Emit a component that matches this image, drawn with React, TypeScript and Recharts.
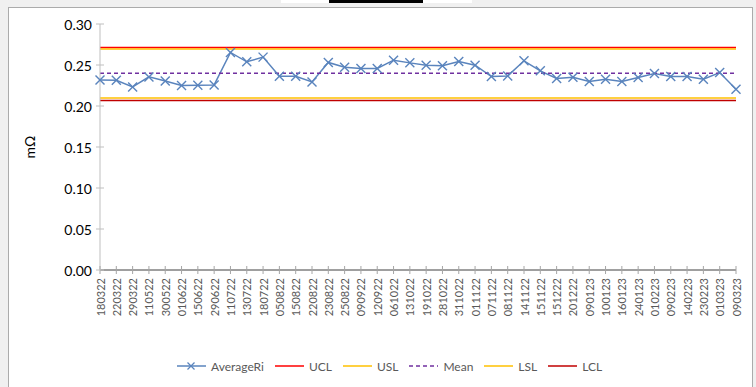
import React from 'react';
import { LineChart, Line, XAxis, YAxis, Legend } from 'recharts';

const dates = [
  '180322','220322','290322','110522','300522','010622','150622','290622','110722','130722',
  '180722','050822','150822','220822','230822','250822','090922','120922','061022','131022',
  '191022','281022','311022','011122','071122','081122','141122','151122','151222','201222',
  '090123','100123','160123','240123','010223','090223','140223','230223','010323','090323',
];

const averageRi = [
  0.2318, 0.2314, 0.2232, 0.2355, 0.2306, 0.2249, 0.2253, 0.2257, 0.2653, 0.2539,
  0.2596, 0.2363, 0.2363, 0.2294, 0.2531, 0.2473, 0.2457, 0.2457, 0.2559, 0.2526,
  0.2498, 0.2490, 0.2543, 0.2498, 0.2359, 0.2367, 0.2551, 0.2429, 0.2335, 0.2351,
  0.2298, 0.2326, 0.2298, 0.2347, 0.2396, 0.2359, 0.2359, 0.2326, 0.2408, 0.2204,
];

const UCL = 0.2712;
const USL = 0.2694;
const MEAN = 0.2398;
const LSL = 0.2097;
const LCL = 0.2067;

const yTicks = [0, 0.05, 0.1, 0.15, 0.2, 0.25, 0.3];

const data = dates.map((d, i) => ({
  date: d,
  AverageRi: averageRi[i],
  UCL,
  USL,
  Mean: MEAN,
  LSL,
  LCL,
}));

const BLUE = '#5A84BD';

const series = [
  { key: 'AverageRi', color: BLUE, dash: undefined as string | undefined, marker: true },
  { key: 'UCL', color: '#FF0000', dash: undefined, marker: false },
  { key: 'USL', color: '#FFC000', dash: undefined, marker: false },
  { key: 'Mean', color: '#7030A0', dash: '4 3', marker: false },
  { key: 'LSL', color: '#FFC000', dash: undefined, marker: false },
  { key: 'LCL', color: '#C00000', dash: undefined, marker: false },
];

const FONT = 'Lato, "Open Sans", sans-serif';

const XDot = (props: any) => {
  const { cx, cy, index } = props;
  if (cx == null || cy == null) return <g key={`d${index}`} />;
  const s = 4.5;
  return (
    <g key={`d${index}`}>
      <line x1={cx - s} y1={cy - s} x2={cx + s} y2={cy + s} stroke={BLUE} strokeWidth={1.4} />
      <line x1={cx - s} y1={cy + s} x2={cx + s} y2={cy - s} stroke={BLUE} strokeWidth={1.4} />
    </g>
  );
};

const YTick = (props: any) => {
  const { x, y, payload } = props;
  return (
    <g>
      <line x1={x - 4} x2={x + 4} y1={y} y2={y} stroke="#BFBFBF" strokeWidth={1} />
      <text x={x - 8} y={y} textAnchor="end" dominantBaseline="central" fontSize={14} fill="#000" fontFamily={FONT}>
        {Number(payload.value).toFixed(2)}
      </text>
    </g>
  );
};

const XTick = (props: any) => {
  const { x, y, payload } = props;
  return (
    <g>
      <line x1={x} x2={x} y1={y - 4} y2={y + 4} stroke="#A6A6A6" strokeWidth={1} />
      <text
        x={x}
        y={y + 8}
        transform={`rotate(-90 ${x} ${y + 8})`}
        textAnchor="end"
        dominantBaseline="central"
        fontSize={11}
        fill="#595959"
        fontFamily={FONT}
      >
        {payload.value}
      </text>
    </g>
  );
};

const LegendContent = () => (
  <div
    style={{
      height: 20,
      display: 'flex',
      alignItems: 'center',
      paddingLeft: 177,
      fontFamily: FONT,
      fontSize: 12,
      color: '#595959',
      boxSizing: 'border-box',
    }}
  >
    {series.map((s) => (
      <div key={s.key} style={{ display: 'flex', alignItems: 'center', marginRight: 11 }}>
        <svg width={29} height={12} style={{ marginRight: 5 }}>
          <line x1={0} x2={29} y1={6} y2={6} stroke={s.color} strokeWidth={1.5} strokeDasharray={s.dash} />
          {s.marker && (
            <g>
              <line x1={10.5} y1={2.5} x2={17.5} y2={9.5} stroke={BLUE} strokeWidth={1.3} />
              <line x1={10.5} y1={9.5} x2={17.5} y2={2.5} stroke={BLUE} strokeWidth={1.3} />
            </g>
          )}
        </svg>
        <span>{s.key}</span>
      </div>
    ))}
  </div>
);

export default function App() {
  return (
    <div style={{ position: 'absolute', left: 0, top: 0, width: 756, height: 387, overflow: 'hidden', background: '#F0F0F0' }}>
      <div style={{ position: 'absolute', left: 281, top: 0, width: 48, height: 3, background: '#FFFFFF' }} />
      <div style={{ position: 'absolute', left: 329, top: 0, width: 94, height: 3, background: '#000000' }} />
      <div style={{ position: 'absolute', left: 423, top: 0, width: 49, height: 3, background: '#FFFFFF' }} />
      <div
        style={{
          position: 'absolute',
          left: 8,
          top: 7,
          width: 745,
          height: 400,
          border: '1px solid #ABABAB',
          background: '#FFFFFF',
          boxSizing: 'border-box',
        }}
      />
      <div style={{ position: 'absolute', left: 0, top: 0 }}>
        <LineChart width={756} height={387} data={data} margin={{ top: 24, right: 20, left: 40, bottom: 37 }}>
          <XAxis
            dataKey="date"
            height={60}
            axisLine={{ stroke: '#404040', strokeWidth: 1 }}
            tickLine={false}
            tickSize={0}
            tickMargin={0}
            interval={0}
            tick={<XTick />}
          />
          <YAxis
            width={60}
            domain={[0, 0.3]}
            ticks={yTicks}
            axisLine={{ stroke: '#BFBFBF', strokeWidth: 1 }}
            tickLine={false}
            tickSize={0}
            tickMargin={0}
            tick={<YTick />}
            label={{
              value: 'mΩ',
              angle: -90,
              position: 'insideLeft',
              offset: -10,
              style: { fontSize: 14, fill: '#000', fontFamily: FONT, textAnchor: 'middle' },
            }}
          />
          <Legend
            verticalAlign="bottom"
            content={<LegendContent />}
            wrapperStyle={{ top: 356, left: 0, width: 756, height: 20 }}
          />
          {series.map((s) => (
            <Line
              key={s.key}
              dataKey={s.key}
              type="linear"
              stroke={s.color}
              strokeWidth={1.5}
              strokeDasharray={s.dash}
              dot={s.marker ? <XDot /> : false}
              activeDot={false}
              isAnimationActive={false}
            />
          ))}
        </LineChart>
      </div>
    </div>
  );
}
